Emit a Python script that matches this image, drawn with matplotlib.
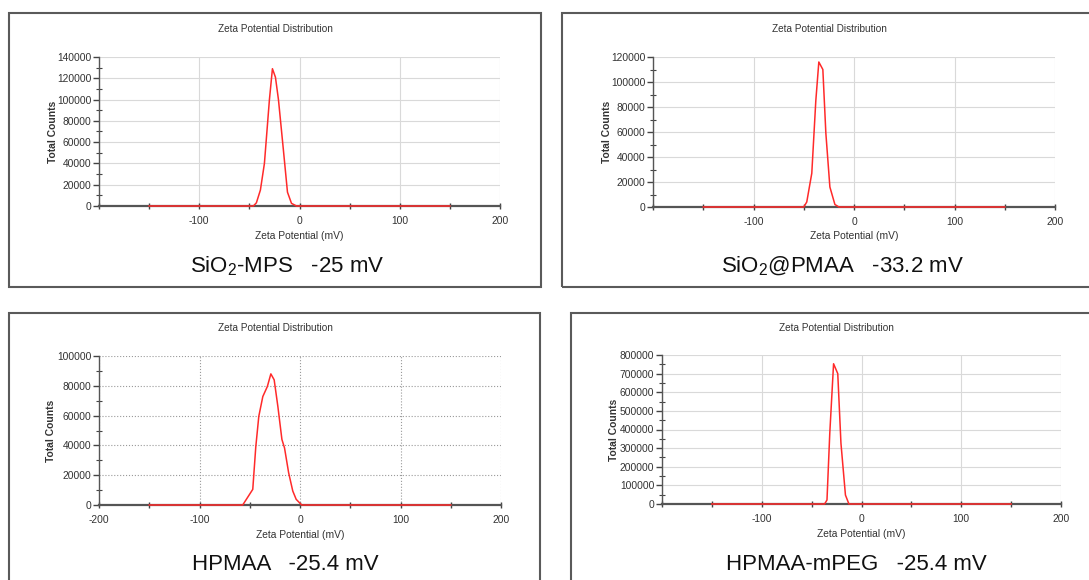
import matplotlib
matplotlib.use("Agg")
import matplotlib.pyplot as plt
from matplotlib.patches import Rectangle
from matplotlib.ticker import MultipleLocator, FixedLocator

plt.rcParams['font.family'] = ['Liberation Sans', 'DejaVu Sans']
plt.rcParams['mathtext.fontset'] = 'custom'
plt.rcParams['mathtext.rm'] = 'Liberation Sans'
plt.rcParams['axes.unicode_minus'] = False

# ---------------- data ----------------
title = "Zeta Potential Distribution"
xlabel = "Zeta Potential (mV)"
ylabel = "Total Counts"

x_mps = [-150, -46, -43, -39, -35, -30, -27, -24, -21, -16, -12, -8, -3, 150]
y_mps = [0, 0, 3000, 15000, 40000, 100000, 129000, 121000, 100000, 52000, 13000, 2500, 0, 0]

x_pmaa = [-150, -50, -47, -42, -38, -35, -31, -28, -24, -19, -15, 150]
y_pmaa = [0, 0, 4000, 27000, 85000, 116000, 110000, 59000, 16000, 2000, 0, 0]

x_hpmaa = [-150, -57, -47, -44, -41, -37, -32.5, -29, -25.7, -22, -18, -15.4, -11.3, -7.2, -3.8, 1.7, 150]
y_hpmaa = [0, 0, 10500, 39000, 59500, 72800, 79500, 88000, 84000, 66000, 44000, 38300, 21600, 9400, 3800, 0, 0]

x_peg = [-150, -37, -34.6, -31.8, -28, -23.8, -20.6, -16.1, -12.6, 150]
y_peg = [0, 0, 21500, 380000, 753000, 700000, 326000, 48000, 0, 0]

captions = ["SiO$_{2}$-MPS   -25 mV", "SiO$_{2}$@PMAA   -33.2 mV",
            "HPMAA   -25.4 mV", "HPMAA-mPEG   -25.4 mV"]
ymax = [140000, 120000, 100000, 800000]
ymajor = [20000, 20000, 20000, 100000]
yminor = [10000, 10000, 10000, 50000]

W, H = 1089, 580
fig = plt.figure(figsize=(W / 100, H / 100), dpi=100)

# panel layout in pixels
axes_px = [(99, 500, 57, 206), (653, 1055, 57, 207), (99, 501, 356, 505), (662, 1061, 355, 504)]
boxes_px = [(9, 541, 13, 287), (562, 1092, 13, 287), (9, 540, 313, 592), (571, 1092, 313, 592)]
title_px = [(275, 29), (829, 29), (275, 328), (836, 328)]
cap_px = [(287, 266), (842, 266), (285, 565), (856, 565)]
xlab_top = [231, 231, 530, 529]
ylab_x = [58, 612, 56, 619]
grid_styles = ['-', '-', ':', '-']
grid_colors = ['#d9d9d9', '#d9d9d9', '#9a9a9a', '#d9d9d9']
show_m200 = [False, False, True, False]

series = [(x_mps, y_mps), (x_pmaa, y_pmaa), (x_hpmaa, y_hpmaa), (x_peg, y_peg)]

for i in range(4):
    bl, br, bt, bb = boxes_px[i]
    fig.patches.append(Rectangle((bl / W, 1 - bb / H), (br - bl) / W, (bb - bt) / H,
                                 transform=fig.transFigure, fill=False,
                                 edgecolor='#5a5a5a', linewidth=1.5))
    l, r, t, b = axes_px[i]
    ax = fig.add_axes([l / W, 1 - b / H, (r - l) / W, (b - t) / H])
    xs, ys = series[i]
    ax.plot(xs, ys, color='#ff2a2a', linewidth=1.1, zorder=3, clip_on=False)
    ax.set_xlim(-200, 200)
    ax.set_ylim(0, ymax[i])
    for s in ['top', 'right']:
        ax.spines[s].set_visible(False)
    ax.spines['bottom'].set_color('#555555')
    ax.spines['bottom'].set_linewidth(1.6)
    ax.spines['left'].set_color('#555555')
    ax.spines['left'].set_linewidth(1.0)
    ax.xaxis.set_major_locator(FixedLocator([-200, -100, 0, 100, 200]))
    ax.xaxis.set_minor_locator(FixedLocator([-150, -50, 50, 150]))
    xl = ['-200' if show_m200[i] else '', '-100', '0', '100', '200']
    ax.set_xticklabels(xl)
    ax.yaxis.set_major_locator(MultipleLocator(ymajor[i]))
    ax.yaxis.set_minor_locator(MultipleLocator(yminor[i]))
    ax.tick_params(axis='x', which='both', direction='inout', length=4, width=1,
                   color='#444444', labelsize=7.4, labelcolor='#333333', pad=5)
    ax.tick_params(axis='y', which='major', direction='out', length=4, width=1,
                   color='#444444', labelsize=7.4, labelcolor='#333333', pad=1.5)
    ax.tick_params(axis='y', which='minor', direction='inout', length=4, width=0.8,
                   color='#444444')
    ax.grid(True, which='major', linestyle=grid_styles[i], color=grid_colors[i],
            linewidth=0.8)
    ax.set_axisbelow(True)
    ax.set_xlabel(xlabel, fontsize=7.4, color='#333333')
    ax.xaxis.set_label_coords(0.5, (b - xlab_top[i]) / (b - t))
    ax.set_ylabel(ylabel, fontsize=7.4, color='#333333', fontweight='bold')
    ax.yaxis.set_label_coords((ylab_x[i] - l) / (r - l), 0.5)
    tx, ty = title_px[i]
    fig.text(tx / W, 1 - ty / H, title, fontsize=7.2, color='#333333',
             ha='center', va='center')
    cx, cy = cap_px[i]
    fig.text(cx / W, 1 - cy / H, captions[i], fontsize=16, color='#111111',
             ha='center', va='center')

fig.savefig("out.png", dpi=100)
